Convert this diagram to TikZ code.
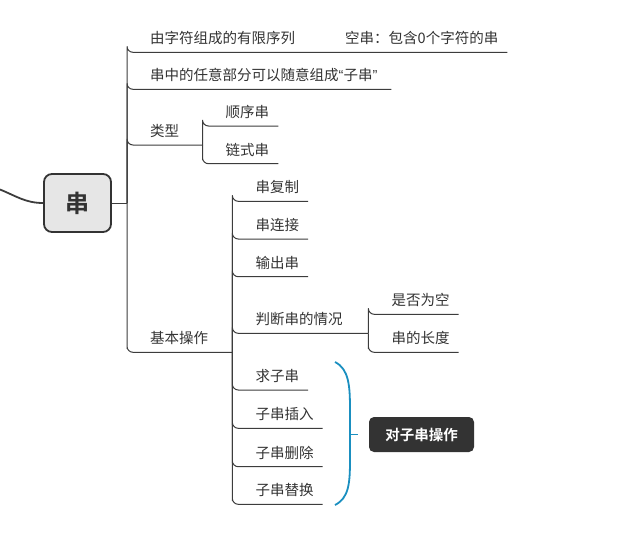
\documentclass[tikz,border=0pt]{standalone}
\usepackage{fontspec}
\setmainfont{Noto Sans CJK SC}[BoldFont={Noto Sans CJK SC Bold}]
\newfontfamily\latinfont{Liberation Sans}
\usepackage{tikz}
\definecolor{ink}{HTML}{333333}
\definecolor{wire}{HTML}{3c3c3c}
\definecolor{rootfill}{HTML}{E6E6E6}
\definecolor{brace}{HTML}{1A8FC0}

\begin{document}
\begin{tikzpicture}[x=1pt,y=-1pt,
		branch/.style={wire,line width=1pt,rounded corners=6pt},
		topic/.style={anchor=south west,inner sep=0pt,text=ink,font=\fontsize{14.5pt}{17pt}\selectfont,
			text height=12pt,text depth=8.5pt,execute at begin node={\hspace{23pt}},execute at end node={\hspace{9pt}}},
		rootbox/.style={draw=ink,fill=rootfill,line width=1.8pt,rounded corners=8pt,minimum width=67pt,
			minimum height=58pt,inner sep=0pt,text=ink,font=\fontsize{24pt}{26pt}\selectfont\bfseries},
		sumbox/.style={fill=ink,rounded corners=5pt,minimum width=105pt,minimum height=35pt,inner sep=0pt,
			text=white,font=\fontsize{14.5pt}{17pt}\selectfont\bfseries}]
			\useasboundingbox (0,0) rectangle (631,539);

			\coordinate (in) at (0,189.5);
			\node[rootbox] (root) at (77.5,203) {串};
			\draw[wire,line width=1.8pt] (in) to[out=-22,in=180] (root.west);

			\coordinate (hub) at (127,203);
			\draw[branch] (root.east) -- (hub);

			\node[topic] (t1) at (127,52.3) {由字符组成的有限序列};
			\node[topic] (t11) at (322,52.3) {空串：包含0个字符的串};
			\node[topic] (t2) at (127,89.3) {串中的任意部分可以随意组成{\latinfont “}子串{\latinfont ”\,\,}};
			\node[topic] (t3) at (127,145) {类型};
			\node[topic] (t4) at (127,352.3) {基本操作};

			\draw[branch] (hub) |- (t1.south west) -- (t1.south east) -- (t11.south west) -- (t11.south east);
			\draw[branch] (hub) |- (t2.south west) -- (t2.south east);
			\coordinate (h3) at (202.5,145);
			\draw[branch] (hub) |- (t3.south west) -- (h3);
			\coordinate (h4) at (232.3,352.3);
			\draw[branch] (hub) |- (t4.south west) -- (h4);

			\node[topic] (t31) at (202.5,126) {顺序串};
			\node[topic] (t32) at (202.5,163.7) {链式串};
			\draw[branch] (h3) |- (t31.south west) -- (t31.south east);
			\draw[branch] (h3) |- (t32.south west) -- (t32.south east);

			\node[topic] (t41) at (232.3,201.3) {串复制};
			\node[topic] (t42) at (232.3,239) {串连接};
			\node[topic] (t43) at (232.3,276.7) {输出串};
			\node[topic] (t44) at (232.3,333.3) {判断串的情况};
			\node[topic] (t45) at (232.3,390) {求子串};
			\node[topic] (t46) at (232.3,428.3) {子串插入};
			\node[topic] (t47) at (232.3,466.7) {子串删除};
			\node[topic] (t48) at (232.3,504.3) {子串替换};
			\foreach \n in {t41,t42,t43,t45,t46,t47,t48}
				\draw[branch] (h4) |- (\n.south west) -- (\n.south east);
			\coordinate (h44) at (368.3,333.3);
			\draw[branch] (h4) |- (t44.south west) -- (h44);

			\node[topic] (t441) at (368.3,314.3) {是否为空};
			\node[topic] (t442) at (368.3,352.3) {串的长度};
			\draw[branch] (h44) |- (t441.south west) -- (t441.south east);
			\draw[branch] (h44) |- (t442.south west) -- (t442.south east);

			\coordinate (bt) at (335,362);
			\coordinate (bb) at (335,505);
			\coordinate (tip) at (358,434.5);
			\draw[brace,line width=1.8pt] (bt) .. controls (349,369) and (350,386) .. (350,410)
				-- (350,459) .. controls (350,483) and (349,498) .. (bb);
			\draw[brace,line width=1.8pt] (350,434.5) -- (tip);
			\node[sumbox] (sum) at (421.5,434.5) {对子串操作};
		\end{tikzpicture}
\end{document}
